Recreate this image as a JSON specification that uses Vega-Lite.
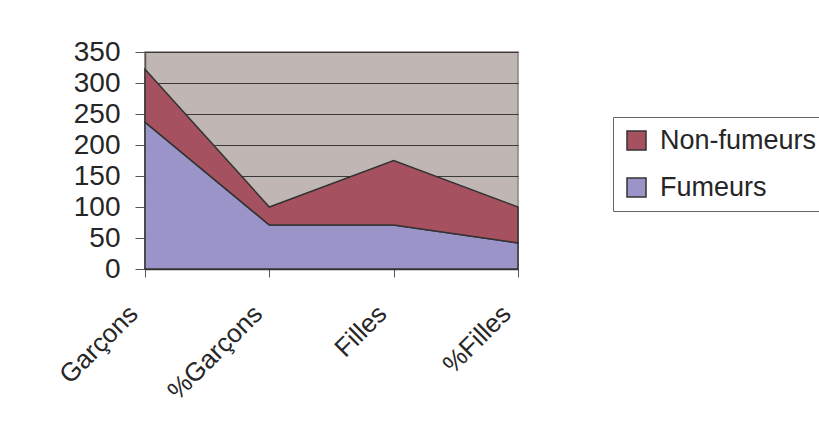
{
  "$schema": "https://vega.github.io/schema/vega-lite/v6.json",
  "width": 373,
  "height": 217,
  "autosize": {"type": "none"},
  "padding": {"left": 145, "top": 52, "right": 301, "bottom": 171},
  "background": "white",
  "config": {
    "font": "Liberation Sans",
    "view": {"fill": "#C0B7B4", "stroke": "#8A8480", "strokeWidth": 1.5}
  },
  "data": {
    "values": [
      {"categorie": "Garçons", "serie": "Fumeurs", "valeur": 237},
      {"categorie": "%Garçons", "serie": "Fumeurs", "valeur": 71},
      {"categorie": "Filles", "serie": "Fumeurs", "valeur": 71},
      {"categorie": "%Filles", "serie": "Fumeurs", "valeur": 42},
      {"categorie": "Garçons", "serie": "Non-fumeurs", "valeur": 85},
      {"categorie": "%Garçons", "serie": "Non-fumeurs", "valeur": 29},
      {"categorie": "Filles", "serie": "Non-fumeurs", "valeur": 104},
      {"categorie": "%Filles", "serie": "Non-fumeurs", "valeur": 58}
    ]
  },
  "mark": {"type": "area", "stroke": "#333333", "strokeWidth": 1.5, "opacity": 1},
  "encoding": {
    "x": {
      "field": "categorie",
      "type": "nominal",
      "sort": ["Garçons", "%Garçons", "Filles", "%Filles"],
      "scale": {"type": "point", "padding": 0},
      "axis": {
        "title": null,
        "labelAngle": -45,
        "labelAlign": "right",
        "labelBaseline": "alphabetic",
        "labelFontSize": 26,
        "labelColor": "#262626",
        "labelPadding": 38,
        "labelOffset": -6,
        "tickSize": 8,
        "tickColor": "#555555",
        "domainColor": "#333333",
        "domainWidth": 1.5,
        "grid": false
      }
    },
    "y": {
      "field": "valeur",
      "type": "quantitative",
      "stack": "zero",
      "scale": {"domain": [0, 350], "nice": false},
      "axis": {
        "title": null,
        "values": [0, 50, 100, 150, 200, 250, 300, 350],
        "labelFontSize": 28,
        "labelColor": "#262626",
        "labelPadding": 15,
        "tickSize": 10,
        "tickColor": "#555555",
        "domainColor": "#555555",
        "domainWidth": 1.5,
        "grid": true,
        "gridColor": "#3A3A3A",
        "gridWidth": 1,
        "gridOpacity": 1
      }
    },
    "color": {
      "field": "serie",
      "type": "nominal",
      "scale": {"domain": ["Non-fumeurs", "Fumeurs"], "range": ["#A5515F", "#9A94C8"]},
      "legend": {
        "title": null,
        "orient": "none",
        "legendX": 468,
        "legendY": 65,
        "symbolType": "square",
        "symbolSize": 361,
        "symbolStrokeColor": "#333333",
        "symbolStrokeWidth": 1.5,
        "labelFontSize": 27,
        "labelColor": "#262626",
        "labelOffset": 10,
        "labelLimit": 300,
        "rowPadding": 19,
        "padding": 10,
        "strokeColor": "#666666",
        "fillColor": "white"
      }
    },
    "order": {"field": "serie", "sort": "ascending"}
  }
}
